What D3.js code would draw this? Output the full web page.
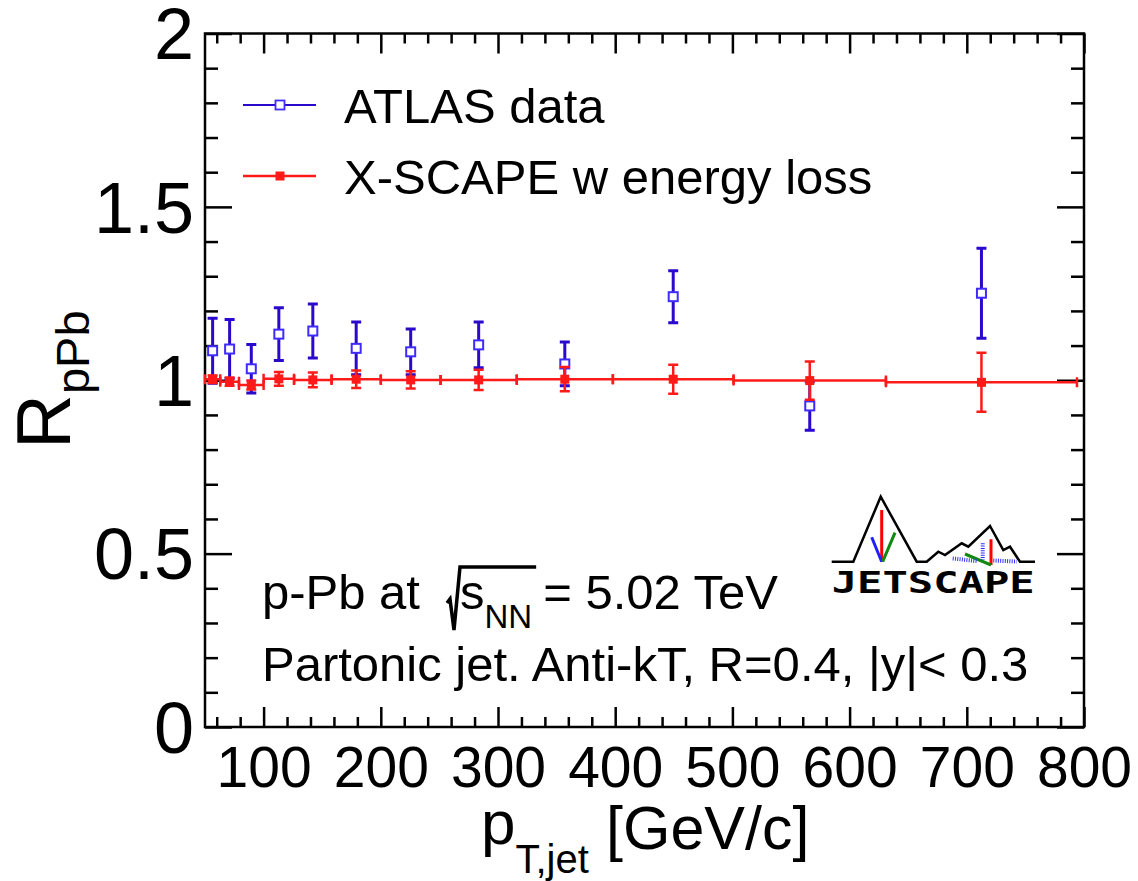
<!DOCTYPE html>
<html>
<head>
<meta charset="utf-8">
<title>RpPb vs pT,jet</title>
<script src="https://cdn.jsdelivr.net/npm/d3@7"></script>
<style>
body { margin: 0; background: #fff; }
svg { display: block; background: #fff; font-family: "Liberation Sans", Arial, Helvetica, sans-serif; }
</style>
</head>
<body>
<svg id="chart" width="1138" height="881"></svg>
<script>
// pT,jet binning (GeV/c)
const binEdges   = [50, 63, 79, 100, 126, 158, 200, 251, 316, 398, 501, 631, 794];
const binCenters = [56.5, 71, 89.5, 113, 142, 179, 225.5, 283.5, 357, 449.5, 566, 712.5];

// ATLAS data
const atlasR   = [1.085, 1.090, 1.033, 1.133, 1.142, 1.092, 1.082, 1.102, 1.047, 1.241, 0.926, 1.251];
const atlasErr = [0.094, 0.085, 0.070, 0.076, 0.078, 0.076, 0.066, 0.066, 0.063, 0.075, 0.070, 0.130];

// X-SCAPE w energy loss
const xscapeR   = [1.003, 0.996, 0.986, 1.004, 1.001, 1.003, 1.001, 1.001, 1.003, 1.003, 0.999, 0.994];
const xscapeErr = [0.011, 0.012, 0.013, 0.020, 0.021, 0.025, 0.025, 0.029, 0.035, 0.042, 0.055, 0.085];

const xTicks = [100, 200, 300, 400, 500, 600, 700, 800];
const yTicks = [0, 0.5, 1, 1.5, 2];

const FONT = '"Liberation Sans", Arial, Helvetica, sans-serif';
const BLUE = "#2a08cc", BLUE_MK = "#3f2bff", RED = "#ff1a1a";

const svg = d3.select("#chart");
const x = d3.scaleLinear().domain([50, 800]).range([205, 1084]);
const y = d3.scaleLinear().domain([0, 2]).range([727, 33.5]);

const minorX = d3.range(60, 800, 20).filter(v => v % 100 !== 0);
const minorY = d3.range(1, 20).filter(i => i % 5 !== 0).map(i => i / 10);

function styleAxis(g) {
  g.select(".domain").remove();
  g.selectAll(".tick line").attr("stroke", "#000").attr("stroke-width", 2.5);
  g.attr("font-family", FONT);
}

// ticks on all four sides, pointing inward
svg.append("g").attr("transform", "translate(0,727)")
  .call(d3.axisBottom(x).tickValues(minorX).tickSize(-10).tickFormat("")).call(styleAxis);
const xAxis = svg.append("g").attr("transform", "translate(0,727)")
  .call(d3.axisBottom(x).tickValues(xTicks).tickSize(-20).tickFormat(d3.format("d"))).call(styleAxis);
xAxis.attr("font-size", 57);
xAxis.selectAll(".tick text").attr("y", 60).attr("dy", null).attr("fill", "#000");

svg.append("g").attr("transform", "translate(0,33.5)")
  .call(d3.axisTop(x).tickValues(minorX).tickSize(-10).tickFormat("")).call(styleAxis);
svg.append("g").attr("transform", "translate(0,33.5)")
  .call(d3.axisTop(x).tickValues(xTicks).tickSize(-20).tickFormat("")).call(styleAxis);

svg.append("g").attr("transform", "translate(205,0)")
  .call(d3.axisLeft(y).tickValues(minorY).tickSize(-13).tickFormat("")).call(styleAxis);
const yAxis = svg.append("g").attr("transform", "translate(205,0)")
  .call(d3.axisLeft(y).tickValues(yTicks).tickSize(-27).tickPadding(11).tickFormat(d => String(d))).call(styleAxis);
yAxis.attr("font-size", 72);
yAxis.selectAll(".tick text").attr("dy", "0.35em").attr("fill", "#000");

svg.append("g").attr("transform", "translate(1084,0)")
  .call(d3.axisRight(y).tickValues(minorY).tickSize(-13).tickFormat("")).call(styleAxis);
svg.append("g").attr("transform", "translate(1084,0)")
  .call(d3.axisRight(y).tickValues(yTicks).tickSize(-27).tickFormat("")).call(styleAxis);

// frame
svg.append("rect")
  .attr("x", x(50)).attr("y", y(2))
  .attr("width", x(800) - x(50)).attr("height", y(0) - y(2))
  .attr("fill", "none").attr("stroke", "#000").attr("stroke-width", 2.5);

// ---- ATLAS data: vertical error bars + open squares
const atlas = binCenters.map((c, i) => ({ x: c, v: atlasR[i], e: atlasErr[i] }));
const gA = svg.append("g");
gA.selectAll("line.bar").data(atlas).join("line").attr("class", "bar")
  .attr("x1", d => x(d.x)).attr("x2", d => x(d.x))
  .attr("y1", d => y(d.v - d.e)).attr("y2", d => y(d.v + d.e))
  .attr("stroke", BLUE).attr("stroke-width", 3);
gA.selectAll("path.cap").data(atlas).join("path").attr("class", "cap")
  .attr("d", d => `M${x(d.x) - 5},${y(d.v + d.e)}h10M${x(d.x) - 5},${y(d.v - d.e)}h10`)
  .attr("stroke", BLUE).attr("stroke-width", 3);

// ---- X-SCAPE: horizontal bin bars, vertical error bars, filled squares
const xs = binCenters.map((c, i) => ({ x: c, lo: binEdges[i], hi: binEdges[i + 1], v: xscapeR[i], e: xscapeErr[i] }));
const gX = svg.append("g");
gX.selectAll("path.hbar").data(xs).join("path").attr("class", "hbar")
  .attr("d", d => `M${x(d.lo)},${y(d.v)}H${x(d.hi)}M${x(d.lo)},${y(d.v) - 5}v10M${x(d.hi)},${y(d.v) - 5}v10`)
  .attr("stroke", RED).attr("stroke-width", 2.5).attr("fill", "none");
gX.selectAll("path.vbar").data(xs).join("path").attr("class", "vbar")
  .attr("d", d => `M${x(d.x)},${y(d.v - d.e)}V${y(d.v + d.e)}M${x(d.x) - 5},${y(d.v + d.e)}h10M${x(d.x) - 5},${y(d.v - d.e)}h10`)
  .attr("stroke", RED).attr("stroke-width", 2.5).attr("fill", "none");

gA.selectAll("rect").data(atlas).join("rect")
  .attr("x", d => x(d.x) - 4.5).attr("y", d => y(d.v) - 4.5)
  .attr("width", 9).attr("height", 9)
  .attr("fill", "#fff").attr("stroke", BLUE_MK).attr("stroke-width", 2);
gX.selectAll("rect").data(xs).join("rect")
  .attr("x", d => x(d.x) - 4.5).attr("y", d => y(d.v) - 4.5)
  .attr("width", 9).attr("height", 9).attr("fill", RED);
gX.raise();

// ---- legend
const leg = svg.append("g").attr("font-size", 49).attr("font-family", FONT);
leg.append("line").attr("x1", 243).attr("x2", 316).attr("y1", 105).attr("y2", 105).attr("stroke", BLUE).attr("stroke-width", 2);
leg.append("rect").attr("x", 275.5).attr("y", 100.5).attr("width", 9).attr("height", 9).attr("fill", "#fff").attr("stroke", BLUE_MK).attr("stroke-width", 1.8);
leg.append("text").attr("x", 344).attr("y", 122.5).text("ATLAS data");
leg.append("line").attr("x1", 243).attr("x2", 316).attr("y1", 176).attr("y2", 176).attr("stroke", RED).attr("stroke-width", 2.5);
leg.append("rect").attr("x", 275.5).attr("y", 171.5).attr("width", 9).attr("height", 9).attr("fill", RED);
leg.append("text").attr("x", 344).attr("y", 193.5).text("X-SCAPE w energy loss");

// ---- annotation lines
const ann = svg.append("g").attr("font-size", 49).attr("font-family", FONT).attr("fill", "#000");
let cx = 262;
const t1 = ann.append("text").attr("x", cx).attr("y", 609).text("p-Pb at");
cx += t1.node().getComputedTextLength() + 27;
const ts = ann.append("text").attr("x", cx + 13).attr("y", 609).text("s");
const sEnd = cx + 13 + ts.node().getComputedTextLength();
const tn = ann.append("text").attr("x", sEnd).attr("y", 628).attr("font-size", 33).text("NN");
const nEnd = sEnd + tn.node().getComputedTextLength();
ann.append("path")
  .attr("d", `M${cx},603L${cx + 3},599L${cx + 7},630L${cx + 13},567H${nEnd + 4}`)
  .attr("fill", "none").attr("stroke", "#000").attr("stroke-width", 3.5).attr("stroke-linejoin", "miter");
ann.append("text").attr("x", nEnd + 11).attr("y", 609).text("= 5.02 TeV");
ann.append("text").attr("x", 262).attr("y", 681).text("Partonic jet. Anti-kT, R=0.4, |y|< 0.3");

// ---- axis titles
const xt = svg.append("text").attr("font-family", FONT).attr("fill", "#000").attr("y", 848);
xt.append("tspan").attr("x", 481).attr("y", 844).attr("font-size", 62).text("p");
xt.append("tspan").attr("y", 873).attr("font-size", 40).text("T,jet");
xt.append("tspan").attr("x", 606).attr("y", 849).attr("font-size", 61).text("[GeV/c]");

const yt = svg.append("text").attr("font-family", FONT).attr("fill", "#000")
  .attr("transform", "translate(70,449) rotate(-90)");
yt.append("tspan").attr("font-size", 76).text("R");
yt.append("tspan").attr("dy", 19).attr("font-size", 47).text("pPb");

// ---- JETSCAPE logo
const logo = svg.append("g").attr("transform", "translate(790,480)").attr("fill", "none").attr("stroke-linecap", "butt");
logo.append("path")
  .attr("d", "M41.7,81.7L63.3,81.7L90.7,16.7L126.7,81.7L136.7,81.7L148.3,71.7L155,75L171.7,63.3L178.3,66.7L200,46L213.3,70L220,66.7L230,81.7L245,81.7")
  .attr("stroke", "#000").attr("stroke-width", 2.5);
logo.append("path").attr("d", "M91.7,30V81.7M201,59.3V85").attr("stroke", "#f00").attr("stroke-width", 3);
logo.append("path").attr("d", "M81.7,57.3L91.7,81.7").attr("stroke", "#2020ff").attr("stroke-width", 3);
logo.append("path").attr("d", "M105,52.7L92.7,81.7M175,74L201,85").attr("stroke", "#118811").attr("stroke-width", 3);
logo.append("path").attr("d", "M162.7,78.5L186.7,81M192.7,63.3V80M203.3,80.5L226.7,81.5")
  .attr("stroke", "#3030ff").attr("stroke-width", 4).attr("stroke-dasharray", "1,1.3");
const jt = logo.append("text").attr("x", 0).attr("y", 113.5)
  .attr("font-family", '"DejaVu Sans Mono", monospace').attr("font-weight", "bold")
  .attr("font-size", 30).attr("fill", "#000").text("JETSCAPE");
const jb = jt.node().getBBox();
jt.attr("transform", `translate(41.7,0) scale(${203 / jb.width},1) translate(${-jb.x},0)`);
</script>
</body>
</html>
